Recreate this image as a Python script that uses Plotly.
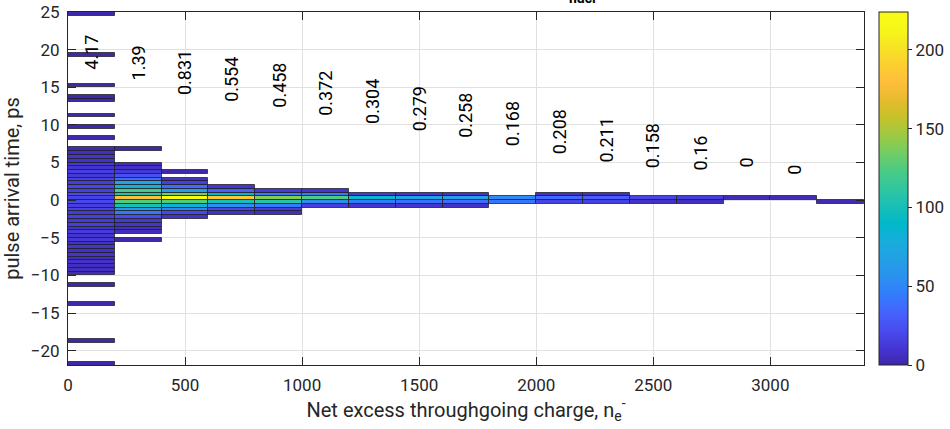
import plotly.graph_objects as go

# ---------------- data ----------------
x_edges = [0, 200, 400, 600, 800, 1000, 1200, 1400, 1600, 1800, 2000,
           2200, 2400, 2600, 2800, 3000, 3200, 3400]
y_bin = 0.5

# lower edge of each column's contiguous block of bins
block_bottom = [-10, -4.5, -2.5, -2, -2, -1, -1, -1, -1, -0.5, -0.5, -0.5,
                -0.5, -0.5, 0, 0, -0.5]

# counts per bin, bottom to top, for each column
counts_c1 = [4, 6, 5, 8, 6, 9, 7, 10, 8, 11, 9, 13, 10, 14, 12, 16, 13, 18,
             15, 20, 17, 21, 16, 19, 14, 17, 12, 15, 10, 12, 8, 9, 6, 4]
counts_c2 = [5, 7, 9, 12, 22, 42, 62, 100, 125, 180, 105, 120, 80, 68, 38,
             24, 12, 8, 5]
counts_c3 = [8, 20, 50, 82, 125, 224, 138, 65, 38, 15, 8]
counts_c4 = [8, 20, 55, 100, 185, 90, 32, 10]
counts_c5 = [6, 15, 45, 108, 140, 45, 12]
counts_c6 = [15, 55, 125, 45, 10]
counts_c7 = [10, 45, 92, 12]
counts_c8 = [10, 40, 70, 10]
counts_c9 = [8, 38, 66, 9]
counts_c10 = [42, 52]
counts_c11 = [18, 36, 8]
counts_c12 = [16, 31, 7]
counts_c13 = [8, 18]
counts_c14 = [6, 14]
counts_c15 = [4]
counts_c16 = [4]
counts_c17 = [3]

column_counts = [counts_c1, counts_c2, counts_c3, counts_c4, counts_c5,
                 counts_c6, counts_c7, counts_c8, counts_c9, counts_c10,
                 counts_c11, counts_c12, counts_c13, counts_c14, counts_c15,
                 counts_c16, counts_c17]

# isolated single bins: column index, lower edge, count
outlier_col = [0, 0, 0, 0, 0, 0, 0, 0, 0, 0, 0, 0, 1, 1, 2]
outlier_ylow = [24.5, 19, 15, 13.5, 13, 11, 9.5, 8, -11.5, -14, -19, -22,
                6.5, -5.5, 3.5]
outlier_count = [1, 1, 1, 1, 1, 1, 1, 1, 1, 1, 1, 1, 1, 1, 1]

# per-column spread labels
sigma_labels = ["4.17", "1.39", "0.831", "0.554", "0.458", "0.372", "0.304",
                "0.279", "0.258", "0.168", "0.208", "0.211", "0.158", "0.16",
                "0", "0"]
label_y = [19.65, 18.2, 16.9, 16.1, 15.3, 14.2, 13.1, 12.1, 11.2, 10.2, 9.1,
           8.0, 7.2, 6.2, 5.0, 4.0]

x_ticks = [0, 500, 1000, 1500, 2000, 2500, 3000]
y_ticks = [-20, -15, -10, -5, 0, 5, 10, 15, 20, 25]
cbar_ticks = [0, 50, 100, 150, 200]
c_max = 224

# ---------------- styling ----------------
parula = [
    [0.2422, 0.1504, 0.6603], [0.2706, 0.2147, 0.8364], [0.2813, 0.3006, 0.9414],
    [0.2699, 0.3892, 0.9906], [0.1963, 0.4847, 0.9892], [0.1687, 0.5703, 0.9359],
    [0.1380, 0.6276, 0.8973], [0.0952, 0.6798, 0.8598], [0.0036, 0.7203, 0.7917],
    [0.0964, 0.7500, 0.7120], [0.1938, 0.7758, 0.6251], [0.2906, 0.7973, 0.5188],
    [0.4456, 0.8024, 0.3909], [0.6174, 0.7876, 0.2612], [0.7738, 0.7598, 0.1646],
    [0.9035, 0.7330, 0.1774], [0.9956, 0.7434, 0.2371], [0.9892, 0.8136, 0.1885],
    [0.9654, 0.8899, 0.1461], [0.9657, 0.9668, 0.0992], [0.9769, 0.9839, 0.0805],
]
n = len(parula)
colorscale = [[i / (n - 1), "rgb(%d,%d,%d)" % tuple(round(c * 255) for c in rgb)]
              for i, rgb in enumerate(parula)]

FONT = "Roboto"
DARK = "#262626"
GRID = "#e0e0e0"

# ---------------- build cells ----------------
cx, cbase, cval = [], [], []
for i, cnts in enumerate(column_counts):
    for k, v in enumerate(cnts):
        cx.append((x_edges[i] + x_edges[i + 1]) / 2)
        cbase.append(block_bottom[i] + k * y_bin)
        cval.append(v)
for ci, yl, v in zip(outlier_col, outlier_ylow, outlier_count):
    cx.append((x_edges[ci] + x_edges[ci + 1]) / 2)
    cbase.append(yl)
    cval.append(v)

widths = [x_edges[1] - x_edges[0]] * len(cx)

fig = go.Figure()
fig.add_trace(go.Bar(
    x=cx, y=[y_bin] * len(cx), base=cbase, width=widths,
    marker=dict(
        color=cval, colorscale=colorscale, cmin=0, cmax=c_max,
        line=dict(color="rgba(30,30,30,0.75)", width=1),
        showscale=True,
        colorbar=dict(
            x=1.0193, xanchor="left", xpad=0, y=0.5, yanchor="middle",
            len=1, lenmode="fraction", ypad=0, thickness=29,
            outlinecolor=DARK, outlinewidth=1,
            tickvals=cbar_ticks, ticks="outside", ticklen=4,
            tickcolor=DARK, tickfont=dict(family=FONT, size=17, color=DARK),
        ),
    ),
    hoverinfo="skip", showlegend=False,
))

centers = [(x_edges[i] + x_edges[i + 1]) / 2 for i in range(len(sigma_labels))]
for xc, yc, s in zip(centers, label_y, sigma_labels):
    fig.add_annotation(x=xc, y=yc, text=s, showarrow=False, textangle=-90,
                       font=dict(family=FONT, size=18, color="black"))

fig.add_annotation(xref="paper", yref="paper", x=0.646, y=1, yanchor="bottom",
                   yshift=4, text="<b>nucl</b>", showarrow=False,
                   font=dict(family=FONT, size=14, color="black"))

axis_common = dict(
    showline=True, linecolor=DARK, linewidth=1, mirror="ticks",
    ticks="inside", ticklen=8, tickcolor=DARK, showgrid=True,
    gridcolor=GRID, gridwidth=1, zeroline=False, automargin=False,
    tickfont=dict(family=FONT, size=17, color=DARK),
)

fig.update_layout(
    width=950, height=429,
    margin=dict(l=68, r=86.4, t=11.7, b=64.3, autoexpand=False),
    paper_bgcolor="white", plot_bgcolor="white",
    barmode="overlay", bargap=0,
    xaxis=dict(range=[0, 3400], tickvals=x_ticks, ticklabelstandoff=5,
               title=dict(text="Net excess throughgoing charge, n<sub>e</sub><sup>-</sup>",
                          font=dict(family=FONT, size=20, color=DARK), standoff=2),
               **axis_common),
    yaxis=dict(range=[-21.9, 25], tickvals=y_ticks,
               title=dict(text="pulse arrival time, ps",
                          font=dict(family=FONT, size=20, color=DARK), standoff=6),
               ticklabelstandoff=4,
               **axis_common),
)

fig.write_html("out.html")
